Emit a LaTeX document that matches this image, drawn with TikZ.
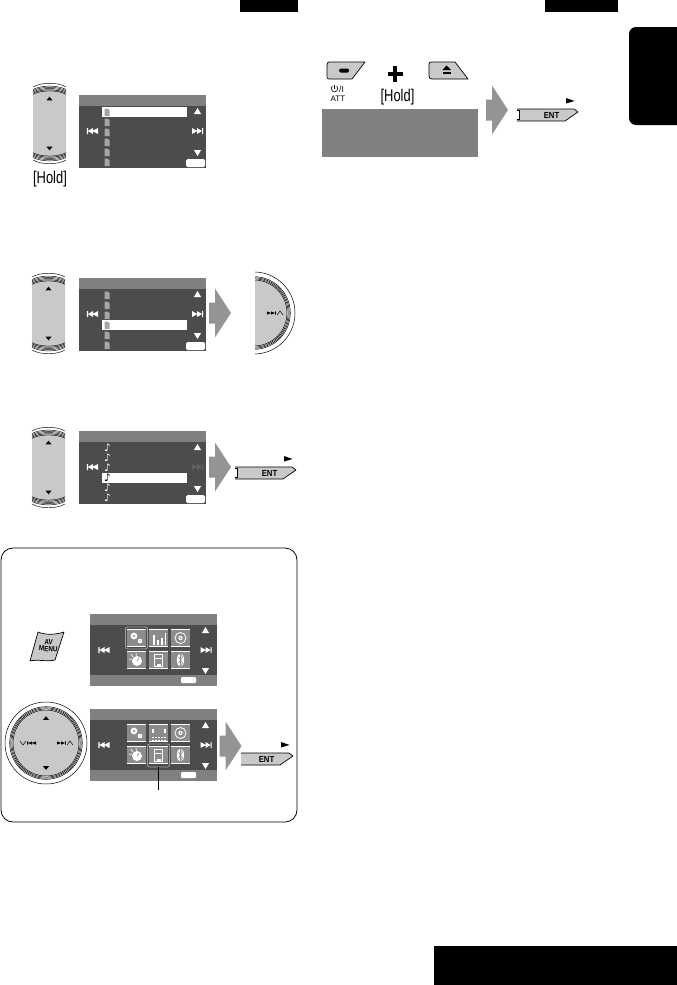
\documentclass[tikz,border=0pt]{standalone}
\usepackage{fontspec}
\setmainfont{Liberation Sans}
\newfontfamily\musicfont{DejaVu Sans}
\definecolor{hdr}{gray}{0.5}
\definecolor{scr}{gray}{0.3}
\definecolor{btn}{gray}{0.79}
\definecolor{arrowg}{gray}{0.58}
\definecolor{icong}{gray}{0.55}
\tikzset{
  header/.style={fill=hdr},
  screenbody/.style={fill=scr},
  ctl/.style={fill=white},
  ring/.style={draw=black,line width=0.5pt},
  entlabel/.style={font=\bfseries\fontsize{8.8}{9}\selectfont,inner sep=0pt,xscale=0.88},
  holdlabel/.style={font=\fontsize{17}{18}\selectfont,inner sep=0pt,xscale=0.76},
}
\newcommand\gup[2]{\fill[white] (#1-3.6,#2+3) -- (#1+3.6,#2+3) -- (#1,#2-3) -- cycle;}
\newcommand\gdn[2]{\fill[white] (#1-3.6,#2-3) -- (#1+3.6,#2-3) -- (#1,#2+3) -- cycle;}
\newcommand\gnext[3]{\fill[#3] (#1-5.5,#2-3) -- (#1,#2) -- (#1-5.5,#2+3) -- cycle (#1-0.5,#2-3) -- (#1+4.5,#2) -- (#1-0.5,#2+3) -- cycle (#1+4.5,#2-3) rectangle (#1+5.6,#2+3);}
\newcommand\gprev[3]{\fill[#3] (#1+5.5,#2-3) -- (#1,#2) -- (#1+5.5,#2+3) -- cycle (#1+0.5,#2-3) -- (#1-4.5,#2) -- (#1+0.5,#2+3) -- cycle (#1-4.5,#2-3) rectangle (#1-5.6,#2+3);}
\newcommand\smallup[2]{\fill[black] (#1-3,#2+1.8) -- (#1+3,#2+1.8) -- (#1,#2-1.8) -- cycle;}
\newcommand\smalldn[2]{\fill[black] (#1-3,#2-1.8) -- (#1+3,#2-1.8) -- (#1,#2+1.8) -- cycle;}
\newcommand\minii[2]{\fill[black] (#1-5,#2-1.6) -- (#1-1,#2) -- (#1-5,#2+1.6) -- cycle (#1-1,#2-1.6) -- (#1+3,#2) -- (#1-1,#2+1.6) -- cycle (#1+3,#2-1.6) rectangle (#1+3.8,#2+1.6);}
\newcommand\miniprev[2]{\fill[black] (#1+5,#2-1.6) -- (#1+1,#2) -- (#1+5,#2+1.6) -- cycle (#1+1,#2-1.6) -- (#1-3,#2) -- (#1+1,#2+1.6) -- cycle (#1-3,#2-1.6) rectangle (#1-3.8,#2+1.6);}
\newcommand\bigarrow[2]{\fill[arrowg] (#1,#2-10.5) -- (#1+6,#2-10.5) -- (#1+6,#2-24.5) -- (#1+22,#2) -- (#1+6,#2+24.5) -- (#1+6,#2+10.5) -- (#1,#2+10.5) -- cycle;}
% ENT button: left x, top y, extra drawing, width change
\newcommand\entbtn[4]{\begin{scope}[shift={(#1,#2)}]
  \fill[btn] (0,0) -- (57+#4,0) -- (61+#4,3) -- (48+#4,12) -- (0,12) -- cycle;
  \draw[black,line width=0.7pt,line join=round] (0,0) -- (57+#4,0) -- (61+#4,3) -- (48+#4,12) -- (0,12);
  #3
  \node[entlabel] (ent#1) at (34.5+#4,6.6) {ENT};
  \fill[black] (49+#4,-11) -- (57.5+#4,-8) -- (49+#4,-5.5) -- cycle;
\end{scope}}
\newcommand\entbracket{\fill[white] (-1,0.6) rectangle (1.8,11.4); \draw[black,line width=0.7pt] (0.4,1.5) -- (2,1.5) -- (2,10.5) -- (0.4,10.5);}
\newcommand\rocker[2]{\begin{scope}[shift={(#1,#2)}]
  \fill[btn] (-16.5,10) .. controls (-8,5) and (8,5) .. (16.5,10) -- (16.5,71) .. controls (8,76) and (-8,76) .. (-16.5,71) -- cycle;
  \foreach \d in {5,6.2,7.4,8.6,9.8}{
    \draw[black,line width=0.45pt] (-16.5,\d+1.5) .. controls (-8,\d-3) and (8,\d-3) .. (16.5,\d+1.5);
    \draw[black,line width=0.45pt] (-16.5,81-\d-1.5) .. controls (-8,81-\d+3) and (8,81-\d+3) .. (16.5,81-\d-1.5);
  }
  \draw[black,line width=0.45pt] (-16.5,4) .. controls (-8,-1) and (8,-1) .. (16.5,4);
  \draw[black,line width=0.45pt] (-16.5,77) .. controls (-8,82) and (8,82) .. (16.5,77);
  \smallup{0}{15.5}
  \smalldn{0}{65.5}
\end{scope}}
\newcommand\listscreen[4]{\begin{scope}[shift={(79,#1)}]
  \fill[screenbody] (0,0) rectangle (127,73);
  \fill[header] (0,0) rectangle (127,11);
  \fill[white] (23,12+10*#2) rectangle (108,22+10*#2);
  \gup{118.5}{16}\gdn{118.5}{58}
  \gnext{118.5}{36}{#4}\gprev{13.5}{36}{white}
  \fill[ctl,rounded corners=1.5pt] (107,64) rectangle (126,72);
  #3
\end{scope}}
\newcommand\folders{\foreach \r in {0,...,5}{
  \fill[gray!70] (25.5,13.5+10*\r) -- (28.5,13.5+10*\r) -- (30.5,15+10*\r) -- (30.5,21+10*\r) -- (25.5,21+10*\r) -- cycle;
}}
\newcommand\notes[1]{\foreach \r in {0,...,5}{
  \ifnum\r=#1\relax
    \node[inner sep=0pt,text=black,font=\musicfont\fontsize{10.5}{10}\selectfont] at (28.5,17+10*\r) {♪};
  \else
    \node[inner sep=0pt,text=white,font=\musicfont\fontsize{10.5}{10}\selectfont] at (28.5,17+10*\r) {♪};
  \fi
}}
\newcommand\iconcell[3]{\begin{scope}[shift={(#1,#2)}]
  \fill[icong] (0,0) rectangle (19,18);
  \fill[white] (0,0) rectangle (19,0.8);
  \fill[white] (0,17) rectangle (19,18);
  #3
\end{scope}}
\newcommand\menuscreen[3]{\begin{scope}[shift={(90,#1)}]
  \fill[screenbody] (0,0) rectangle (127,72);
  \fill[header] (0,0) rectangle (127,11);
  \fill[header] (0,61) rectangle (127,72);
  \gup{115.5}{16}\gdn{115.5}{57}
  \gnext{116}{36}{white}\gprev{14}{36}{white}
  \fill[ctl,rounded corners=1pt] (91,63) rectangle (106,69);
  \iconcell{37}{15}{%
    \fill[white] (7,7) circle (3.4);\fill[icong] (7,7) circle (1.2);
    \fill[white] (13,12) circle (2.3);\fill[icong] (13,12) circle (.7);}
  \iconcell{59}{15}{#2}
  \iconcell{81}{15}{%
    \draw[white,line width=0.8pt] (9.5,9) circle (5.5);\fill[white] (9.5,9) circle (2.2);\fill[icong] (9.5,9) circle (.9);}
  \iconcell{37}{37}{%
    \fill[white] (10,10) circle (5);\draw[white,line width=0.7pt] (4,3) -- (6,6) (2,8) -- (4.5,8.5) (9,2) -- (9.5,4.5);\draw[icong,line width=0.7pt] (10,10) -- (12,7);}
  \iconcell{59}{37}{%
    \draw[white,line width=0.7pt] (5.5,3) rectangle (13.5,15);\fill[white] (7.5,12.5) rectangle (11.5,15);\draw[white,line width=0.6pt] (5.5,7) -- (13.5,7);}
  \iconcell{81}{37}{%
    \fill[white] (9.5,9) ellipse (3.6 and 6.5);\draw[icong,line width=0.6pt] (7.5,6) -- (11.5,12) -- (9.5,15) -- (9.5,3) -- (11.5,6) -- (7.5,12);}
  #3
\end{scope}}
\begin{document}
\begin{tikzpicture}[x=1pt,y=-1pt]
\useasboundingbox (0,0) rectangle (677,985);
\fill[white] (0,0) rectangle (677,985);
\fill[black] (240,0) rectangle (298,12);
\fill[black] (545,0) rectangle (618,12);
\fill[black,rounded corners=7pt] (629,27) -- (629,125) -- (690,125) -- (690,27) -- cycle;
\fill[white] (677,20) rectangle (690,130);
\fill[black] (434,946) rectangle (677,985);

% block 1
\rocker{49.5}{83}
\listscreen{95}{0}{\folders}{white}
\node[holdlabel] (hold1) at (50,179) {[Hold]};

% block 2
\rocker{48.5}{273}
\listscreen{278}{3}{\folders}{white}
\bigarrow{209}{313}
\begin{scope}
  \clip (255,260) rectangle (300,360);
  \fill[btn] (254,313) circle (33);
  \foreach \r in {33,34.1,35.2,36.3}{\draw[ring] (254,313) circle (\r);}
  \draw[ring] (254,313) circle (41);
\end{scope}
\minii{272}{313}
\draw[black,line width=0.5pt] (277,315) -- (280,311) -- (283,315);

% block 3
\rocker{48.5}{427}
\listscreen{431}{3}{\notes{3}}{gray!75!black}
\bigarrow{209}{467}
\entbtn{235}{467}{\entbracket}{0}

% panel
\draw[black,line width=0.8pt,rounded corners=12pt] (1,548) rectangle (297,822);
\begin{scope}[shift={(47,647)}]
  \fill[btn] (-9,-15) .. controls (-2,-12) and (8,-12) .. (17,-15) -- (8,13) .. controls (0,15) and (-9,12) .. (-17,14) -- cycle;
  \draw[black,line width=0.7pt,line join=round] (-9,-15) .. controls (-2,-12) and (8,-12) .. (17,-15) -- (8,13) .. controls (0,15) and (-9,12) .. (-17,14) -- cycle;
  \node[inner sep=0pt,font=\bfseries\fontsize{7.5}{6.8}\selectfont,align=center,xscale=.85,rotate=-4] (avmenu) at (1.5,-1.5) {AV\\MENU};
\end{scope}
\menuscreen{614}{%
  \foreach \a/\h in {4/10,8/5,12/7,15.5/12}{\fill[white] (\a,15.5-\h) rectangle (\a+1.6,15.5);}
}{%
  \draw[gray!75,line width=0.8pt,rounded corners=2pt] (35.5,13) rectangle (57.5,35);
}
% dial
\fill[btn] (46,743) circle (33);
\foreach \r in {33,34.1,35.2,36.3}{\draw[ring] (46,743) circle (\r);}
\draw[ring] (46,743) circle (41);
\smallup{46}{718}
\smalldn{46}{768}
\miniprev{31}{743}
\draw[black,line width=0.5pt] (20,741) -- (23,745) -- (26,741);
\minii{62}{743}
\draw[black,line width=0.5pt] (67,745) -- (70,741) -- (73,745);
\menuscreen{709}{%
  \foreach \a in {3,6,9,12,15}{\foreach \k in {0,1}{\fill[white] (\a,13+3*\k) rectangle (\a+1.6,14+3*\k);}}
  \fill[white] (3,5) rectangle (4.6,9);\fill[white] (15,5) rectangle (16.6,9);
}{%
  \draw[gray!75,line width=0.8pt,rounded corners=2pt] (57.5,35) rectangle (79.5,58);
  \coordinate (sel) at (68.5,58);
}
\coordinate (leaderend) at (158.5,790);
\draw[black,line width=1.3pt] (sel) -- (leaderend);
\bigarrow{219.5}{746}
\entbtn{241}{753}{}{-9}

% right column
\fill[btn] (329,62) -- (365,62) -- (352,79) -- (329,79) .. controls (327,79) and (327,78) .. (327,76) -- (327,65) .. controls (327,63) and (328,62) .. (329,62) -- cycle;
\draw[black,line width=0.7pt,line join=round] (329,62) -- (365,62) -- (352,79) -- (329,79) .. controls (327,79) and (327,78) .. (327,76) -- (327,65) .. controls (327,63) and (328,62) .. (329,62) -- cycle;
\fill[black,rounded corners=1.5pt] (339,68.5) rectangle (349,72.5);
\fill[btn] (431,62) -- (455,62) -- (468,79) -- (432,79) .. controls (430,79) and (429,78) .. (429,76) -- (429,64) .. controls (429,63) and (430,62) .. (431,62) -- cycle;
\draw[black,line width=0.7pt,line join=round] (431,62) -- (455,62) -- (468,79) -- (432,79) .. controls (430,79) and (429,78) .. (429,76) -- (429,64) .. controls (429,63) and (430,62) .. (431,62) -- cycle;
\fill[black] (442.5,70) -- (446.5,65.5) -- (451,70) -- cycle;
\fill[black] (442.5,71.5) rectangle (451,74);
\draw[black,line width=3.4pt] (395,66) -- (395,81.5) (387.5,74) -- (402.5,74);
\draw[black,line width=0.6pt] (336.6,86) arc[start angle=-50,end angle=230,radius=3.3];
\draw[black,line width=0.6pt] (334.5,85) -- (334.5,88.5);
\node[inner sep=0pt,font=\fontsize{8.5}{8}\selectfont] (powerbar) at (341.5,89) {/I};
\node[inner sep=0pt,font=\fontsize{8}{8}\selectfont] (att) at (338,99) {ATT};
\node[holdlabel] (hold2) at (397.5,97) {[Hold]};
\fill[hdr] (322,109) rectangle (478,157);
\bigarrow{486}{110}
\entbtn{517}{109}{\entbracket}{0}
\end{tikzpicture}
\end{document}
